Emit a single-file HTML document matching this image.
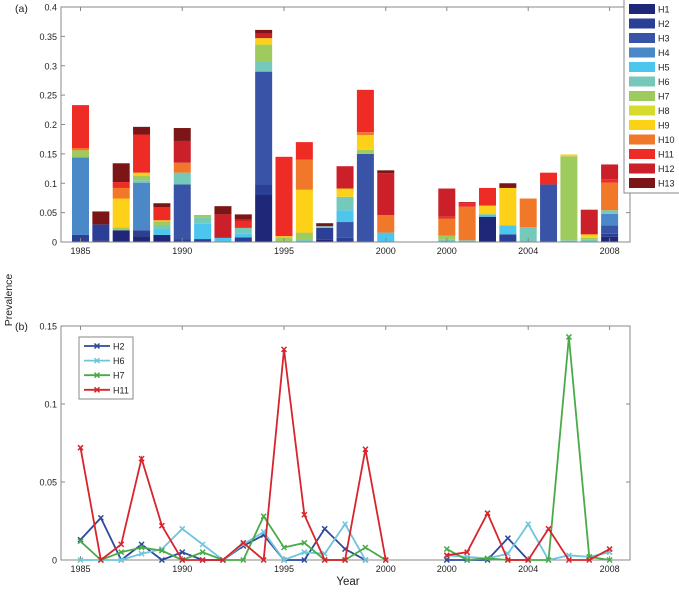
<!DOCTYPE html>
<html><head><meta charset="utf-8"><style>
body{margin:0;background:#fff;width:679px;height:590px;overflow:hidden;font-family:"Liberation Sans",sans-serif}
svg text{font-family:"Liberation Sans",sans-serif;fill:#222}
</style></head><body>
<svg id="s" width="679" height="590" xmlns="http://www.w3.org/2000/svg"></svg>
<script>
const haps=["H1","H2","H3","H4","H5","H6","H7","H8","H9","H10","H11","H12","H13"];
const hapColors=["#1f2878","#2b3f94","#3954a6","#4a88c8","#4cc6ec","#74c9bb","#9ecb5e","#d6dc2e","#fdd117","#f07828","#ee2b25","#cb1f2a","#7c1616"];
const years=["1985","1986","1987","1988","1989","1990","1991","1992","1993","1994","1995","1996","1997","1998","1999","2000","2000","2001","2002","2003","2004","2005","2006","2007","2008"];
const yearSlots=[0,1,2,3,4,5,6,7,8,9,10,11,12,13,14,15,18,19,20,21,22,23,24,25,26];
const stacks=[
[0,0.012,0,0.132,0,0,0.012,0,0,0.004,0.073,0,0],
[0.003,0.027,0,0,0,0,0,0,0,0,0,0,0.022],
[0.020,0,0,0,0,0,0.005,0,0.049,0.018,0.010,0,0.032],
[0.010,0.010,0,0.081,0,0.004,0.008,0,0.005,0,0.065,0,0.013],
[0.012,0,0,0,0.010,0.007,0.006,0,0.002,0,0.022,0,0.007],
[0,0.005,0.093,0,0,0.020,0,0,0,0.017,0,0.037,0.022],
[0,0.005,0,0,0.026,0.010,0.005,0,0,0,0,0,0],
[0,0,0,0,0.007,0,0,0,0,0,0,0.040,0.014],
[0,0.008,0,0,0.006,0.010,0,0,0,0,0.011,0.003,0.009],
[0.080,0.017,0.193,0,0,0.018,0.028,0,0.011,0,0,0.008,0.006],
[0,0,0,0,0,0,0.008,0,0.002,0,0.135,0,0],
[0,0,0,0,0,0.005,0.011,0,0.073,0.051,0.030,0,0],
[0.004,0.020,0,0,0,0.003,0,0,0,0,0,0,0.005],
[0,0.007,0.027,0,0.020,0.023,0,0,0.014,0,0,0.038,0],
[0,0,0.150,0,0,0,0.007,0,0.025,0.005,0.072,0,0],
[0,0,0,0,0.016,0,0,0,0,0.030,0,0.071,0.005],
[0,0,0,0,0,0.004,0.007,0,0,0.029,0.003,0.048,0],
[0,0,0,0,0,0.003,0,0,0,0.057,0.005,0.003,0],
[0.043,0,0,0,0.004,0,0,0,0.015,0,0.030,0,0],
[0,0.013,0,0,0.015,0,0,0,0.064,0,0,0,0.008],
[0,0,0,0,0,0.025,0,0,0,0.049,0,0,0],
[0,0,0.098,0,0,0,0,0,0,0,0.020,0,0],
[0,0,0,0,0,0.003,0.143,0,0.003,0,0,0,0],
[0,0,0,0,0,0.004,0.003,0,0.006,0,0,0.042,0],
[0.009,0.005,0.014,0.020,0,0.006,0,0,0,0.047,0.006,0.025,0]
];
const topTicks=["0","0.05","0.1","0.15","0.2","0.25","0.3","0.35","0.4"];
const topTickVals=[0,0.05,0.1,0.15,0.2,0.25,0.3,0.35,0.4];
const xTickLabels=["1985","1990","1995","2000","2000","2004","2008"];
const xTickSlots=[0,5,10,15,18,22,26];
const botTicks=["0","0.05","0.1","0.15"];
const botTickVals=[0,0.05,0.1,0.15];
const lineNames=["H2","H6","H7","H11"];
const lineColors=["#2d4a9a","#6fc5dc","#4aaa48","#d8242c"];
const H2=[0.013,0.027,0,0.010,0,0.005,0,0,0.009,0.016,0,0,0.020,0.007,0,null,0,0,0,0.014,0,null,null,null,null];
const H6=[0,0,0,0.004,0.007,0.020,0.010,0,0.010,0.018,0,0.005,0.004,0.023,0,null,0.003,0.002,0.001,0.004,0.023,0,0.003,0.002,0.005];
const H7=[0.012,0,0.005,0.008,0.006,0,0.005,0,0,0.028,0.008,0.011,0,0,0.008,0,0.007,0,0.001,0,0,0,0.143,0.002,0];
const H11=[0.072,0,0.010,0.065,0.022,0,0,0,0.011,0,0.135,0.029,0,0,0.071,0,0.003,0.005,0.030,0,0,0.020,0,0,0.007];
const lineSeries=[H2,H6,H7,H11];

const NS="http://www.w3.org/2000/svg",svg=document.getElementById("s");
function mk(tag,attrs,parent,txt){const e=document.createElementNS(NS,tag);for(const k in attrs)e.setAttribute(k,attrs[k]);if(txt!==undefined)e.textContent=txt;(parent||svg).appendChild(e);return e;}
const xL=61,xR=630,x0=80.5,slot=20.35;
const xs=i=>x0+slot*i;
const tTop=7,tBot=242,tMax=0.4;
const ty=v=>tBot-(v/tMax)*(tBot-tTop);
const bTop=326,bBot=560,bMax=0.15;
const by=v=>bBot-(v/bMax)*(bBot-bTop);

const gA=mk("g",{});
years.forEach((yr,i)=>{let acc=0;const cx=xs(yearSlots[i]);
  stacks[i].forEach((v,h)=>{if(v<=0)return;const r=mk("rect",{x:cx-8.5,y:ty(acc+v),width:17,height:ty(acc)-ty(acc+v),fill:hapColors[h]},gA);
    acc+=v;});
});
function axes(top,bot,ticksL,vals,yf,name){
  const g=mk("g",{});
  mk("rect",{x:xL,y:top,width:xR-xL,height:bot-top,fill:"none",stroke:"#888","stroke-width":1},g);
  vals.forEach((v,i)=>{const y=yf(v);mk("line",{x1:xL,x2:xL+4,y1:y,y2:y,stroke:"#888"},g);mk("line",{x1:xR,x2:xR-4,y1:y,y2:y,stroke:"#888"},g);
    const t=mk("text",{x:xL-4,y:y+3.5,"text-anchor":"end","font-size":"9"},g,ticksL[i]);});
  xTickSlots.forEach((s,i)=>{const x=xs(s);mk("line",{x1:x,x2:x,y1:bot,y2:bot-4,stroke:"#888"},g);mk("line",{x1:x,x2:x,y1:top,y2:top+4,stroke:"#888"},g);
    const t=mk("text",{x:x,y:bot+12,"text-anchor":"middle","font-size":"9"},g,xTickLabels[i]);});
}
axes(tTop,tBot,topTicks,topTickVals,ty,"top-axes");
axes(bTop,bBot,botTicks,botTickVals,by,"bottom-axes");
let t=mk("text",{x:15,y:12,"font-size":"10.5"},svg,"(a)");
t=mk("text",{x:15,y:330,"font-size":"10.5"},svg,"(b)");
t=mk("text",{x:12,y:300,"font-size":"10.5","text-anchor":"middle",transform:"rotate(-90 12 300)"},svg,"Prevalence");
t=mk("text",{x:348,y:585,"font-size":"11.5","text-anchor":"middle"},svg,"Year");
const lg=mk("g",{});
mk("rect",{x:624,y:-1,width:60,height:194,fill:"#fff",stroke:"#888"},lg);
haps.forEach((h,i)=>{const y=9+i*14.5;const r=mk("rect",{x:629,y:y-5,width:26,height:10,fill:hapColors[i]},lg);
  const tt=mk("text",{x:658,y:y+3.5,"font-size":"9"},lg,h);});
lineSeries.forEach((ser,k)=>{const g=mk("g",{});
  let segs=[],cur=[];ser.forEach((v,i)=>{if(v===null){if(cur.length)segs.push(cur);cur=[];return;}
    if(i>0&&yearSlots[i]-yearSlots[i-1]>1&&cur.length){segs.push(cur);cur=[];}cur.push([xs(yearSlots[i]),by(v)]);});
  if(cur.length)segs.push(cur);
  segs.forEach(sg=>{mk("polyline",{points:sg.map(p=>p.join(",")).join(" "),fill:"none",stroke:lineColors[k],"stroke-width":1.8},g);
    sg.forEach(p=>{mk("path",{d:`M${p[0]-2.5},${p[1]-2.5}L${p[0]+2.5},${p[1]+2.5}M${p[0]-2.5},${p[1]+2.5}L${p[0]+2.5},${p[1]-2.5}`,stroke:lineColors[k],"stroke-width":1.5},g);});});
});
const bl=mk("g",{});
mk("rect",{x:79,y:337,width:54,height:62,fill:"#fff",stroke:"#888"},bl);
lineNames.forEach((n,i)=>{const y=346+i*14.6;mk("line",{x1:84,x2:110,y1:y,y2:y,stroke:lineColors[i],"stroke-width":1.8},bl);
  mk("path",{d:`M94.5,${y-2.5}L99.5,${y+2.5}M94.5,${y+2.5}L99.5,${y-2.5}`,stroke:lineColors[i],"stroke-width":1.5},bl);
  const tt=mk("text",{x:113,y:y+3.5,"font-size":"9"},bl,n);});
</script>
</body></html>
